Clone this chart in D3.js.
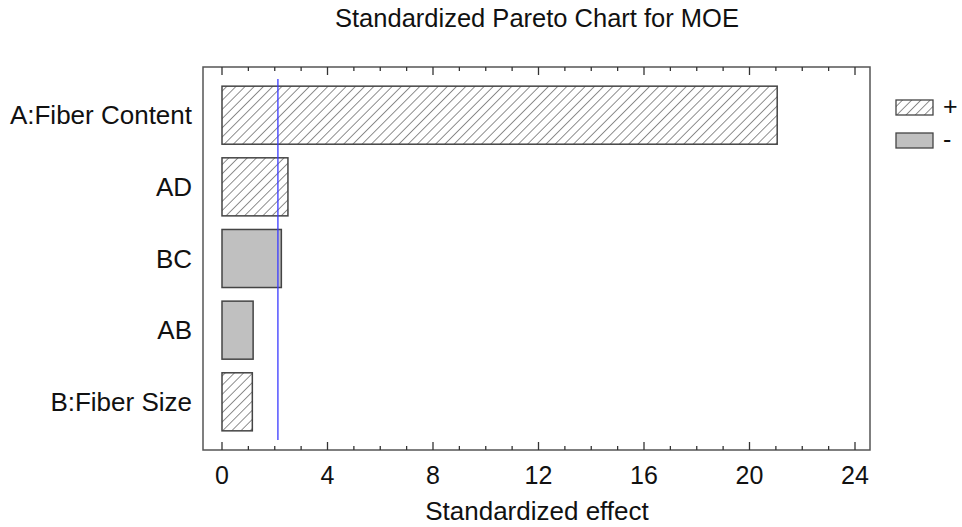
<!DOCTYPE html>
<html><head><meta charset="utf-8">
<script src="https://cdn.jsdelivr.net/npm/d3@7"></script>
<style>
html,body{margin:0;padding:0;background:#fff;}
text{font-family:"Liberation Sans",Arial,sans-serif;fill:#111;}
</style></head>
<body>
<svg id="chart" width="962" height="527"></svg>
<script>
const categories = ["A:Fiber Content","AD","BC","AB","B:Fiber Size"];
const effects = [21.05, 2.5, 2.25, 1.18, 1.15];
const signs = ["+","+","-","-","+"];
const criticalValue = 2.12;
const xTicks = [0,4,8,12,16,20,24];
const legendItems = ["+","-"];
const title = "Standardized Pareto Chart for MOE";
const xTitle = "Standardized effect";

const svg = d3.select("#chart");
const box = {left:203, right:870, top:67, bottom:450};

const defs = svg.append("defs");
const pat = defs.append("pattern").attr("id","hatch").attr("patternUnits","userSpaceOnUse")
  .attr("width",6.5).attr("height",6.5).attr("patternTransform","rotate(45)");
pat.append("rect").attr("width",6.5).attr("height",6.5).attr("fill","#fff");
pat.append("line").attr("x1",0).attr("y1",0).attr("x2",0).attr("y2",6.5)
  .attr("stroke","#333").attr("stroke-width",1.1);

const x = d3.scaleLinear().domain([0,24]).range([222,855]);
const y = d3.scaleBand().domain(categories).range([79,438]).paddingInner(0.19).paddingOuter(0.1);

// frame
svg.append("rect").attr("x",box.left).attr("y",box.top)
  .attr("width",box.right-box.left).attr("height",box.bottom-box.top)
  .attr("fill","none").attr("stroke","#555").attr("stroke-width",1.5);

// ticks
const minor = d3.range(0,25,1);
const gt = svg.append("g");
minor.forEach(v=>{
  const major = v%4===0;
  const len = major?8:4;
  gt.append("line").attr("x1",x(v)).attr("x2",x(v)).attr("y1",box.bottom).attr("y2",box.bottom-len)
    .attr("stroke","#333").attr("stroke-width",1.3);
  gt.append("line").attr("x1",x(v)).attr("x2",x(v)).attr("y1",box.top).attr("y2",box.top+len)
    .attr("stroke","#333").attr("stroke-width",1.3);
});
svg.append("g").selectAll("text").data(xTicks).join("text")
  .attr("x",d=>x(d)).attr("y",484).attr("text-anchor","middle")
  .attr("font-size",25).text(d=>d);

// bars
svg.append("g").selectAll("rect").data(categories).join("rect")
  .attr("x",x(0)).attr("y",d=>y(d))
  .attr("width",(d,i)=>x(effects[i])-x(0)).attr("height",y.bandwidth())
  .attr("fill",(d,i)=>signs[i]==="+"?"url(#hatch)":"#c0c0c0")
  .attr("stroke","#444").attr("stroke-width",1.5);

// category labels
svg.append("g").selectAll("text").data(categories).join("text")
  .attr("x",192).attr("y",d=>y(d)+y.bandwidth()/2+9).attr("text-anchor","end")
  .attr("font-size",26).text(d=>d);

// critical line
svg.append("line").attr("x1",x(criticalValue)).attr("x2",x(criticalValue))
  .attr("y1",79).attr("y2",440).attr("stroke","#3a3aff").attr("stroke-width",1.3);

// legend
const lg = svg.append("g");
legendItems.forEach((s,i)=>{
  const yy = 100 + i*33;
  lg.append("rect").attr("x",896).attr("y",yy).attr("width",37).attr("height",15)
    .attr("fill",s==="+"?"url(#hatch)":"#c0c0c0").attr("stroke","#444").attr("stroke-width",1.3);
  lg.append("text").attr("x",943).attr("y",yy+15).attr("font-size",25).text(s);
});

// titles
svg.append("text").attr("x",537).attr("y",27).attr("text-anchor","middle").attr("font-size",25.5).text(title);
svg.append("text").attr("x",537).attr("y",520).attr("text-anchor","middle").attr("font-size",26).text(xTitle);
</script>
</body></html>
